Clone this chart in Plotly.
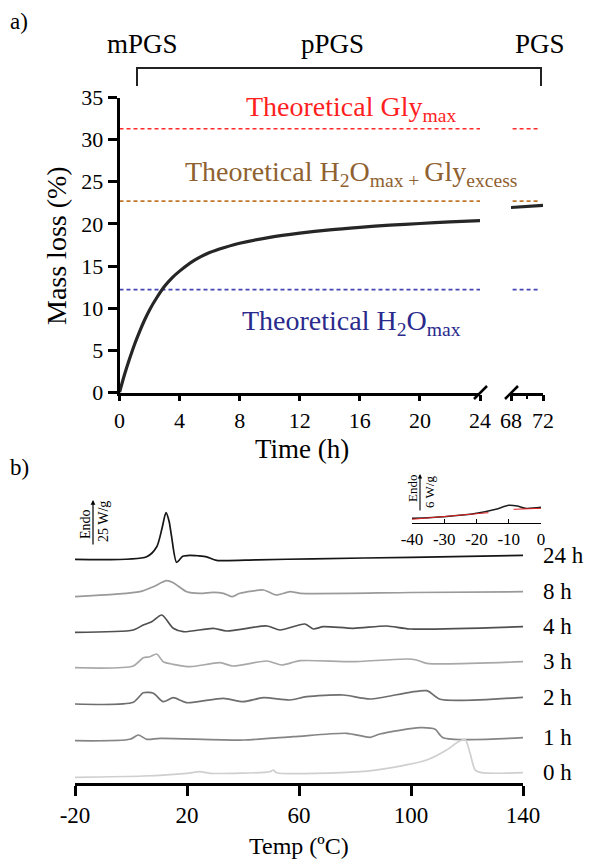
import plotly.graph_objects as go

W, H = 614, 859
def PX(x):
    return x / W
def PY(y):
    return 1 - y / H

FONT = "Liberation Serif"

# ---------------- (a) mass loss data ----------------
time_a = [0, 0.33, 0.67, 1.0, 1.33, 1.67, 2.0, 2.5, 3.0, 3.5, 4.0, 5.0, 6.0, 7.0,
          8.0, 10.0, 12.0, 14.0, 16.0, 18.0, 20.0, 22.0, 24.0]
mass_a = [0, 2.1, 4.0, 5.7, 7.2, 8.6, 9.8, 11.3, 12.6, 13.6, 14.4, 15.7, 16.6, 17.2,
          17.7, 18.4, 18.9, 19.3, 19.6, 19.85, 20.05, 20.25, 20.4]
time_b = [68, 69, 70, 71, 72]
mass_b = [21.95, 22.0, 22.1, 22.15, 22.2]

theo_gly = 31.3
theo_h2o_gly = 22.7
theo_h2o = 12.2

# ---------------- (b) DSC data (relative heat flow, stacked) ----------------
dsc_labels = ["24 h", "8 h", "4 h", "3 h", "2 h", "1 h", "0 h"]
dsc_offsets = [223.7, 186.3, 150.7, 115.3, 79.0, 42.3, 5.7]
dsc_colors = ["#161616", "#9a9a9a", "#505050", "#a8a8a8", "#6e6e6e", "#858585", "#cfcfcf"]

T_24 = [-20, 5.6, 9.2, 11.0, 12.5, 13.6, 14.5, 16.3, 18.5, 21, 24, 27, 30.6, 45, 65, 100, 140]
Q_24 = [0, 2.6, 12.6, 30, 46.6, 38, 22.6, -3, 3, 4, 3.5, 2.5, -1, -0.5, 0.5, 2, 4]
T_8 = [-20, 3.2, 8, 12.7, 15.1, 19.9, 24.6, 29.4, 33, 36, 38.9, 47.3, 49, 52, 56.8, 60.4, 100, 140]
Q_8 = [0, 5, 10, 16, 14, 5, 3.4, 4.4, 3.4, 0, 3.4, 6.7, 5, 1.7, 5, 3.4, 4.2, 5]
T_4 = [-20, 0.8, 4.4, 7.4, 11, 15.1, 18.7, 29.4, 34.2, 48.5, 53.2, 62.1, 65.1, 68.7, 79.4, 91.3, 99.6, 140]
Q_4 = [0, 2.3, 7.3, 10.6, 17.3, 4, 0.6, 4, 1.3, 6.3, 2.3, 8.3, 3.3, 5.6, 4, 6.3, 3.3, 5.6]
T_3 = [-20, 0.8, 4.4, 6.8, 9.2, 11.5, 15.1, 21.1, 31.8, 36.5, 48.5, 53.8, 60.4, 79.4, 98.5, 102, 105.6, 140]
Q_3 = [0, 1.7, 10, 11, 13.7, 6, 3.4, 1, 5, 1.7, 6.7, 2.7, 7, 6, 8.7, 7.7, 4.4, 6]
T_2 = [-20, 0.8, 4.4, 8, 11.5, 15.1, 19.9, 33, 40.1, 47.3, 56.8, 62.7, 75.8, 85.4, 105.6, 110.4, 140]
Q_2 = [0, 1.7, 11.3, 10.7, 2.3, 6.3, 1.3, 5.7, 2.3, 6.3, 4, 7.3, 9, 5, 13.3, 4.7, 6.7]
T_1 = [-20, -0.4, 2.6, 5.6, 10.4, 40.1, 58, 77, 85.4, 88.9, 103.2, 108.6, 111.5, 140]
Q_1 = [0, 1.4, 5.7, 1.4, 2.4, 0.7, 4, 7.4, 3.4, 6.7, 13, 11.4, 3, 3]
T_0 = [-20, 4.4, 19.9, 24.6, 28.2, 49.6, 50.8, 52, 81.8, 93.7, 105.6, 112.7, 116.9, 119.3, 121.1, 122.9, 125.2, 140]
Q_0 = [0, 1.3, 4, 5.6, 4, 5.6, 7.3, 4.6, 5.6, 10, 17.3, 27.3, 35.6, 38, 24, 7.3, 4.6, 4.6]
dsc_T = [T_24, T_8, T_4, T_3, T_2, T_1, T_0]
dsc_Q = [Q_24, Q_8, Q_4, Q_3, Q_2, Q_1, Q_0]
dsc_ticks = [-20, 20, 60, 100, 140]

# inset (glass transition of 24 h sample)
inset_T = [-40, -30, -20, -14, -10, -7.4, -4.9, 0]
inset_Q = [4.7, 6.3, 9.7, 13.7, 17.7, 17.0, 14.7, 15.7]
tan1_T = [-40, -16.3]
tan1_Q = [3.7, 10.3]
tan2_T = [-8.5, 0]
tan2_Q = [13.7, 14.7]
inset_ticks = [-40, -30, -20, -10, 0]

fig = go.Figure()

# ---- panel a traces ----
dash_specs = [(theo_gly, "#ff2a2a"), (theo_h2o_gly, "#c0772a"), (theo_h2o, "#4545b5")]
for val, col in dash_specs:
    fig.add_trace(go.Scatter(x=[0, 24], y=[val, val], mode="lines", xaxis="x", yaxis="y",
                             line=dict(color=col, width=1.6, dash="4px,3px")))
    fig.add_trace(go.Scatter(x=[68.2, 71.4], y=[val, val], mode="lines", xaxis="x2", yaxis="y",
                             line=dict(color=col, width=1.6, dash="4px,3px")))

fig.add_trace(go.Scatter(x=time_a, y=mass_a, mode="lines", xaxis="x", yaxis="y",
                         line=dict(color="#262626", width=3.2, shape="spline", smoothing=0.8)))
fig.add_trace(go.Scatter(x=time_b, y=mass_b, mode="lines", xaxis="x2", yaxis="y",
                         line=dict(color="#262626", width=3.2)))

# ---- panel b traces ----
for T, Q, off, col in zip(dsc_T, dsc_Q, dsc_offsets, dsc_colors):
    fig.add_trace(go.Scatter(x=T, y=[off + q for q in Q], mode="lines", xaxis="x3", yaxis="y3",
                             line=dict(color=col, width=1.7, shape="spline", smoothing=0.7)))

fig.add_trace(go.Scatter(x=inset_T, y=inset_Q, mode="lines", xaxis="x4", yaxis="y4",
                         line=dict(color="#1e1e1e", width=1.4, shape="spline", smoothing=0.8)))
fig.add_trace(go.Scatter(x=tan1_T, y=tan1_Q, mode="lines", xaxis="x4", yaxis="y4",
                         line=dict(color="#e02020", width=1.0)))
fig.add_trace(go.Scatter(x=tan2_T, y=tan2_Q, mode="lines", xaxis="x4", yaxis="y4",
                         line=dict(color="#e02020", width=1.0)))

def axcommon(size):
    return dict(showgrid=False, zeroline=False, showline=True, linecolor="black",
                ticks="outside", tickcolor="black", automargin=False,
                tickfont=dict(family=FONT, size=size, color="black"))

fig.update_layout(
    width=W, height=H, margin=dict(l=0, r=0, t=0, b=0),
    plot_bgcolor="white", paper_bgcolor="white", showlegend=False,
    font=dict(family=FONT, color="black"),
    xaxis=dict(domain=[PX(119.5), PX(480)], range=[0, 24], anchor="y",
               tickvals=[0, 4, 8, 12, 16, 20, 24], ticklen=6, tickwidth=2.5, linewidth=2.5,
               **axcommon(22)),
    xaxis2=dict(domain=[PX(511), PX(543)], range=[68, 72], anchor="y",
                tickvals=[68, 72], ticklen=6, tickwidth=2.5, linewidth=2.5,
                minor=dict(tickvals=[70], ticklen=4, tickwidth=2, ticks="outside", tickcolor="black"),
                **axcommon(22)),
    yaxis=dict(domain=[PY(392.5), PY(97.5)], range=[0, 35], anchor="x",
               tickvals=[0, 5, 10, 15, 20, 25, 30, 35], ticklen=9, tickwidth=2.5, linewidth=2.5,
               **axcommon(22)),
    xaxis3=dict(domain=[PX(75), PX(523)], range=[-20, 140], anchor="y3",
                tickvals=dsc_ticks, ticktext=[str(v) for v in dsc_ticks],
                ticklen=10, tickwidth=2.5, linewidth=2.5, **axcommon(23)),
    yaxis3=dict(domain=[PY(783), PY(483)], range=[0, 300], anchor="x3", visible=False),
    xaxis4=dict(domain=[PX(412), PX(541)], range=[-40, 0], anchor="y4",
                tickvals=inset_ticks, ticktext=[str(v) for v in inset_ticks],
                ticklen=4, tickwidth=1.2, linewidth=1.2,
                showgrid=False, zeroline=False, showline=True, linecolor="black",
                ticks="inside", tickcolor="black", automargin=False,
                tickfont=dict(family=FONT, size=17, color="black")),
    yaxis4=dict(domain=[PY(523), PY(493)], range=[0, 30], anchor="x4", visible=False),
)

shapes = []
# bracket
shapes.append(dict(type="path", xref="paper", yref="paper",
                   path=f"M {PX(137)},{PY(86)} L {PX(137)},{PY(68)} L {PX(541)},{PY(68)} L {PX(541)},{PY(86)}",
                   line=dict(color="#222", width=2)))
# axis break marks
for x0 in (474, 505):
    shapes.append(dict(type="line", xref="paper", yref="paper",
                       x0=PX(x0), y0=PY(399), x1=PX(x0 + 13), y1=PY(386),
                       line=dict(color="black", width=2.5)))
fig.update_layout(shapes=shapes)

ann = []
def text(x, y, s, size, color="black", xanchor="center", yanchor="middle", angle=0):
    ann.append(dict(x=PX(x), y=PY(y), xref="paper", yref="paper", text=s, showarrow=False,
                    xanchor=xanchor, yanchor=yanchor, textangle=angle,
                    font=dict(family=FONT, size=size, color=color)))

text(8, 22, "a)", 23, xanchor="left")
text(8, 467, "b)", 23, xanchor="left")
text(142, 44, "mPGS", 27)
text(332, 44, "pPGS", 27)
text(540, 44, "PGS", 27)

text(351, 109, "Theoretical Gly<sub>max</sub>", 28, color="#ff1f1f")
text(351, 173, "Theoretical H<sub>2</sub>O<sub>max + </sub>Gly<sub>excess</sub>", 28, color="#8f6130")
text(351, 323, "Theoretical H<sub>2</sub>O<sub>max</sub>", 28, color="#2a2a8c")

text(302, 449, "Time (h)", 27)
text(56, 246, "Mass loss (%)", 28, angle=-90)
text(299, 846, "Temp (ºC)", 24)

# DSC labels
for lab, off, Q in zip(dsc_labels, dsc_offsets, dsc_Q):
    ann.append(dict(x=PX(541), y=off + Q[-1], xref="paper", yref="y3", text=lab, showarrow=False,
                    xanchor="left", yanchor="middle", font=dict(family=FONT, size=23, color="black")))

# scale bars
text(85, 524, "Endo", 14, angle=-90)
text(103, 522, "25 W/g", 14, angle=-90)
ann.append(dict(x=PX(93), y=PY(500), xref="paper", yref="paper", ax=0, ay=46, axref="pixel", ayref="pixel",
                text="", showarrow=True, arrowhead=2, arrowsize=0.8, arrowwidth=1.2, arrowcolor="black"))
text(412, 489, "Endo", 13, angle=-90)
text(429, 492, "6 W/g", 13, angle=-90)
ann.append(dict(x=PX(420), y=PY(474), xref="paper", yref="paper", ax=0, ay=38, axref="pixel", ayref="pixel",
                text="", showarrow=True, arrowhead=2, arrowsize=0.8, arrowwidth=1.1, arrowcolor="black"))

fig.update_layout(annotations=ann)

fig.write_html("out.html")
